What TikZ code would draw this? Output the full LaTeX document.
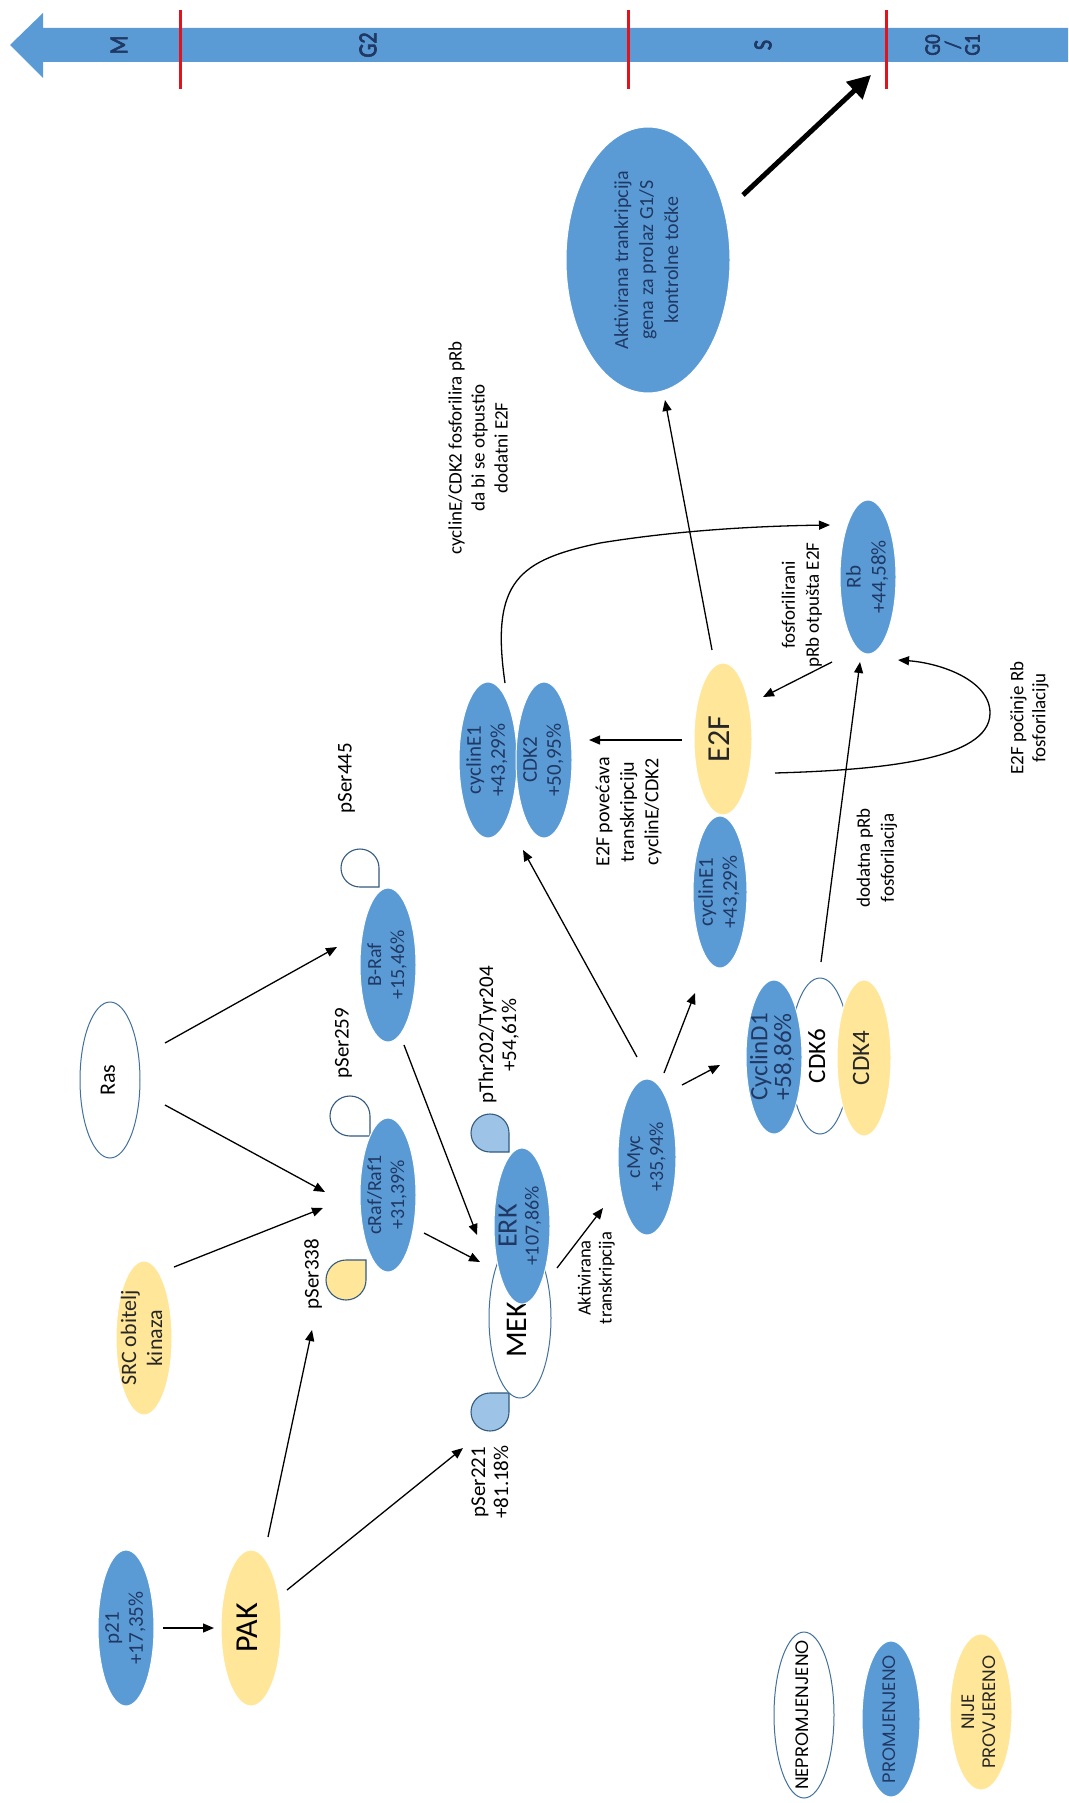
\documentclass[tikz,border=0pt]{standalone}
\usepackage{fontspec}
\setmainfont{Carlito}
\newfontfamily\geo{Poppins}
\newfontfamily\phb{Carlito}[FakeBold=3]
\usepackage{graphicx}
\usetikzlibrary{shapes.geometric,arrows.meta,calc}
\definecolor{blu}{HTML}{5B9BD5}
\definecolor{yel}{HTML}{FFE699}
\definecolor{lblu}{HTML}{9DC3E6}
\definecolor{edgec}{HTML}{41719C}
\definecolor{navy}{HTML}{1F3864}
\definecolor{redl}{HTML}{E3131B}
\definecolor{dgray}{HTML}{262626}
\newcommand\rtxt[3]{\rotatebox{90}{\fontsize{#1}{#2}\selectfont\begin{tabular}{@{}c@{}}#3\end{tabular}}}
\newcommand\phfont{\phb\color{navy}}
\newcommand\phtxt[1]{\rotatebox{90}{\scalebox{0.85}[1]{\fontsize{26}{20}\selectfont\phfont #1}}}
\newcommand\tdrop[6]{\filldraw[fill=#6, draw=edgec!80!black, line width=1.1pt] ($(#1,#2)+(#4:#5)$) -- ($(#1,#2)+(#4+45:#3)$) arc[start angle=#4+45, end angle=#4+315, radius=#3] -- cycle;}
\tikzset{
  ell/.style={ellipse, inner sep=0pt, outer sep=0pt, draw=white, line width=1pt},
  bn/.style={ell, fill=blu},
  yn/.style={ell, fill=yel},
  wn/.style={ellipse, inner sep=0pt, outer sep=0pt, fill=white, draw=edgec, line width=1pt},
  arr/.style={-{Triangle[length=11pt,width=9pt]}, line width=1.3pt, black},
  bigarr/.style={-{Triangle[length=23pt,width=23pt]}, line width=5pt, black},
  ann/.style={inner sep=0pt, text=black},
  phase/.style={inner sep=0pt}
}
\begin{document}
\begin{tikzpicture}[x=1pt,y=1pt]
\useasboundingbox (0,0) rectangle (1068,-1803);
\fill[white] (0,0) rectangle (1068,-1803);

% timeline
\fill[blu] (1068,-28) -- (43,-28) -- (43,-13) -- (10,-45) -- (43,-78) -- (43,-62) -- (1068,-62) -- cycle;
\foreach \xx in {180,628,886} \draw[redl, line width=3pt] (\xx,-10) -- (\xx,-89);
\node[phase] (phM) at (119,-45) {\phtxt{M}};
\node[phase] (phG2) at (368,-45) {\phtxt{G2}};
\node[phase] (phS) at (763,-45) {\phtxt{S}};
\node[phase] (phG) at (955,-45) {\rotatebox{90}{\scalebox{0.85}[1]{\fontsize{22}{17}\selectfont\begin{tabular}{@{}c@{}}\phfont G0\\\phfont /\\\phfont G1\end{tabular}}}};
\coordinate (chk) at (871,-75);

% teardrops
\tdrop{360}{-868}{19}{-45}{26.9}{white}
\tdrop{350}{-1116}{20}{-45}{28.3}{white}
\tdrop{346}{-1280}{20}{45}{28.3}{yel}
\tdrop{490}{-1133}{19}{-45}{26.9}{lblu}
\tdrop{490}{-1412}{19}{45}{26.9}{lblu}

% nodes
\node[bn, minimum width=164pt, minimum height=266pt, label={[text=navy]center:\rtxt{20}{25}{Aktivirana trankripcija\\gena za prolaz G1/S\\kontrolne točke}}] (akt) at (648,-260) {};
\node[bn, minimum width=56pt, minimum height=154pt, label={[text=navy]center:\rtxt{21}{25}{Rb\\+44,58\%}}] (rb) at (868,-577) {};
\node[yn, minimum width=58pt, minimum height=152pt, label={[text=dgray]center:\rtxt{32}{34}{E2F}}] (e2f) at (723,-739) {};
\node[bn, minimum width=58pt, minimum height=156pt, label={[text=navy]center:\rtxt{21}{24}{cyclinE1\\+43,29\%}}] (cyc1a) at (488,-760) {};
\node[bn, minimum width=56pt, minimum height=156pt, label={[text=navy]center:\rtxt{21}{24}{CDK2\\+50,95\%}}] (cdk2) at (544,-760) {};
\node[bn, minimum width=54pt, minimum height=152pt, label={[text=navy]center:\rtxt{21}{24}{cyclinE1\\+43,29\%}}] (cyc1b) at (720,-892) {};
\node[wn, minimum width=60pt, minimum height=156pt, label={[text=black]center:\rtxt{25}{26}{CDK6}}] (cdk6) at (820,-1056) {};
\node[bn, minimum width=56pt, minimum height=154pt, label={[text=navy]center:\rtxt{25}{23}{CyclinD1\\+58,86\%}}] (cycd1) at (774,-1057) {};
\node[yn, minimum width=54pt, minimum height=156pt, label={[text=dgray]center:\rtxt{25}{26}{CDK4}}] (cdk4) at (864,-1058) {};
\node[bn, minimum width=58pt, minimum height=156pt, label={[text=navy]center:\rtxt{20}{23}{cMyc\\+35,94\%}}] (cmyc) at (647,-1157) {};
\node[wn, minimum width=62pt, minimum height=160pt, label={[text=black, yshift=-12pt]center:\rtxt{30}{32}{MEK}}] (mek) at (520,-1318) {};
\node[bn, minimum width=56pt, minimum height=156pt, label={[text=navy]center:\rtxt{28}{22}{ERK\\\fontsize{20}{22}\selectfont +107,86\%}}] (erk) at (522,-1226) {};
\node[bn, minimum width=56pt, minimum height=154pt, label={[text=navy]center:\rtxt{20}{23}{B-Raf\\+15,46\%}}] (braf) at (388,-965) {};
\node[bn, minimum width=56pt, minimum height=154pt, label={[text=navy]center:\rtxt{20}{23}{cRaf/Raf1\\+31,39\%}}] (craf) at (388,-1195) {};
\node[wn, minimum width=60pt, minimum height=156pt, label={[text=black]center:\rtxt{22}{24}{Ras}}] (ras) at (110,-1080) {};
\node[yn, minimum width=56pt, minimum height=154pt, label={[text=dgray]center:\rtxt{22}{26}{SRC obitelj\\kinaza}}] (src) at (144,-1338) {};
\node[bn, minimum width=56pt, minimum height=156pt, label={[text=navy]center:\rtxt{21}{24}{p21\\+17,35\%}}] (p21) at (126,-1628) {};
\node[yn, minimum width=60pt, minimum height=156pt, label={[text=black]center:\rtxt{32}{34}{PAK}}] (pak) at (251,-1628) {};

% annotations
\node[ann] (ann1) at (480,-448) {\rtxt{19}{23}{cyclinE/CDK2 fosforilira pRb\\da bi se otpustio\\dodatni E2F}};
\node[ann] (ann2) at (629,-812) {\rtxt{20}{24.5}{E2F povećava\\transkripciju\\cyclinE/CDK2}};
\node[ann] (ann3) at (802,-605) {\rtxt{19}{24}{fosforilirani\\pRb otpušta E2F}};
\node[ann] (ann4) at (1030,-718) {\rtxt{19}{22}{E2F počinje Rb\\fosforilaciju}};
\node[ann] (ann5) at (877,-858) {\rtxt{19}{24}{dodatna pRb\\fosforilacija}};
\node[ann] (ann6) at (597,-1278) {\rtxt{18.5}{21}{Aktivirana\\transkripcija}};
\node[ann] (l445) at (347,-778) {\rtxt{21}{23}{pSer445}};
\node[ann] (l259) at (344,-1043) {\rtxt{21}{23}{pSer259}};
\node[ann] (l338) at (314,-1274) {\rtxt{21}{23}{pSer338}};
\node[ann] (lthr) at (500,-1035) {\rtxt{21}{23}{pThr202/Tyr204\\+54,61\%}};
\node[ann] (l221) at (492,-1482) {\rtxt{21}{23}{pSer221\\+81.18\%}};

% legend
\node[wn, minimum width=60pt, minimum height=166pt, label={[text=black]center:\rtxt{18}{21}{\geo NEPROMJENJENO}}] (lg1) at (804,-1715) {};
\node[bn, minimum width=58pt, minimum height=156pt, label={[text=navy]center:\rtxt{18}{21}{\geo PROMJENJENO}}] (lg2) at (891,-1719) {};
\node[yn, minimum width=62pt, minimum height=156pt, label={[text=dgray]center:\rtxt{18}{21}{\geo NIJE\\\geo PROVJERENO}}] (lg3) at (981,-1712) {};

% arrows
\draw[arr] ($(p21)+(37,0)$) -- ($(pak)+(-37,0)$);
\draw[arr] ($(pak)+(17,91)$) -- ($(l338)+(-2,-56)$);
\draw[arr] ($(pak)+(36,38)$) -- ($(l221)+(-29,34)$);
\draw[arr] ($(src)+(30,71)$) -- ($(craf)+(-65,-13)$);
\draw[arr] ($(ras)+(55,-25)$) -- ($(craf)+(-63,3)$);
\draw[arr] ($(ras)+(55,37)$) -- ($(braf)+(-51,18)$);
\draw[arr] ($(craf)+(36,-38)$) -- ($(erk)+(-42,-36)$);
\draw[arr] ($(braf)+(16,-80)$) -- ($(erk)+(-45,-9)$);
\draw[arr] ($(erk)+(35,-42)$) -- ($(cmyc)+(-44,-51)$);
\draw[arr] ($(cmyc)+(-10,100)$) -- ($(cdk2)+(-21,-90)$);
\draw[arr] ($(cmyc)+(17,84)$) -- ($(cyc1b)+(-25,-101)$);
\draw[arr] ($(cmyc)+(35,72)$) -- ($(cycd1)+(-54,-8)$);
\draw[arr] ($(cdk6)+(1,94)$) -- ($(rb)+(-8,-85)$);
\draw[arr] ($(e2f)+(-41,-1)$) -- ($(cdk2)+(45,20)$);
\draw[arr] ($(rb)+(-36,-85)$) -- ($(e2f)+(40,42)$);
\draw[arr] ($(e2f)+(-11,89)$) -- ($(akt)+(17,-140)$);
\draw[arr] ($(e2f)+(52,-34)$) .. controls (880,-770) and (990,-760) .. (990,-713) .. controls (990,-680) and (940,-663) .. ($(rb)+(30,-83)$);
\draw[arr] ($(cyc1a)+(17,77)$) .. controls (490,-580) and (520,-560) .. (600,-543) .. controls (680,-530) and (760,-526) .. ($(rb)+(-38,52)$);
\draw[bigarr] ($(akt)+(95,65)$) -- (chk);
\end{tikzpicture}
\end{document}
